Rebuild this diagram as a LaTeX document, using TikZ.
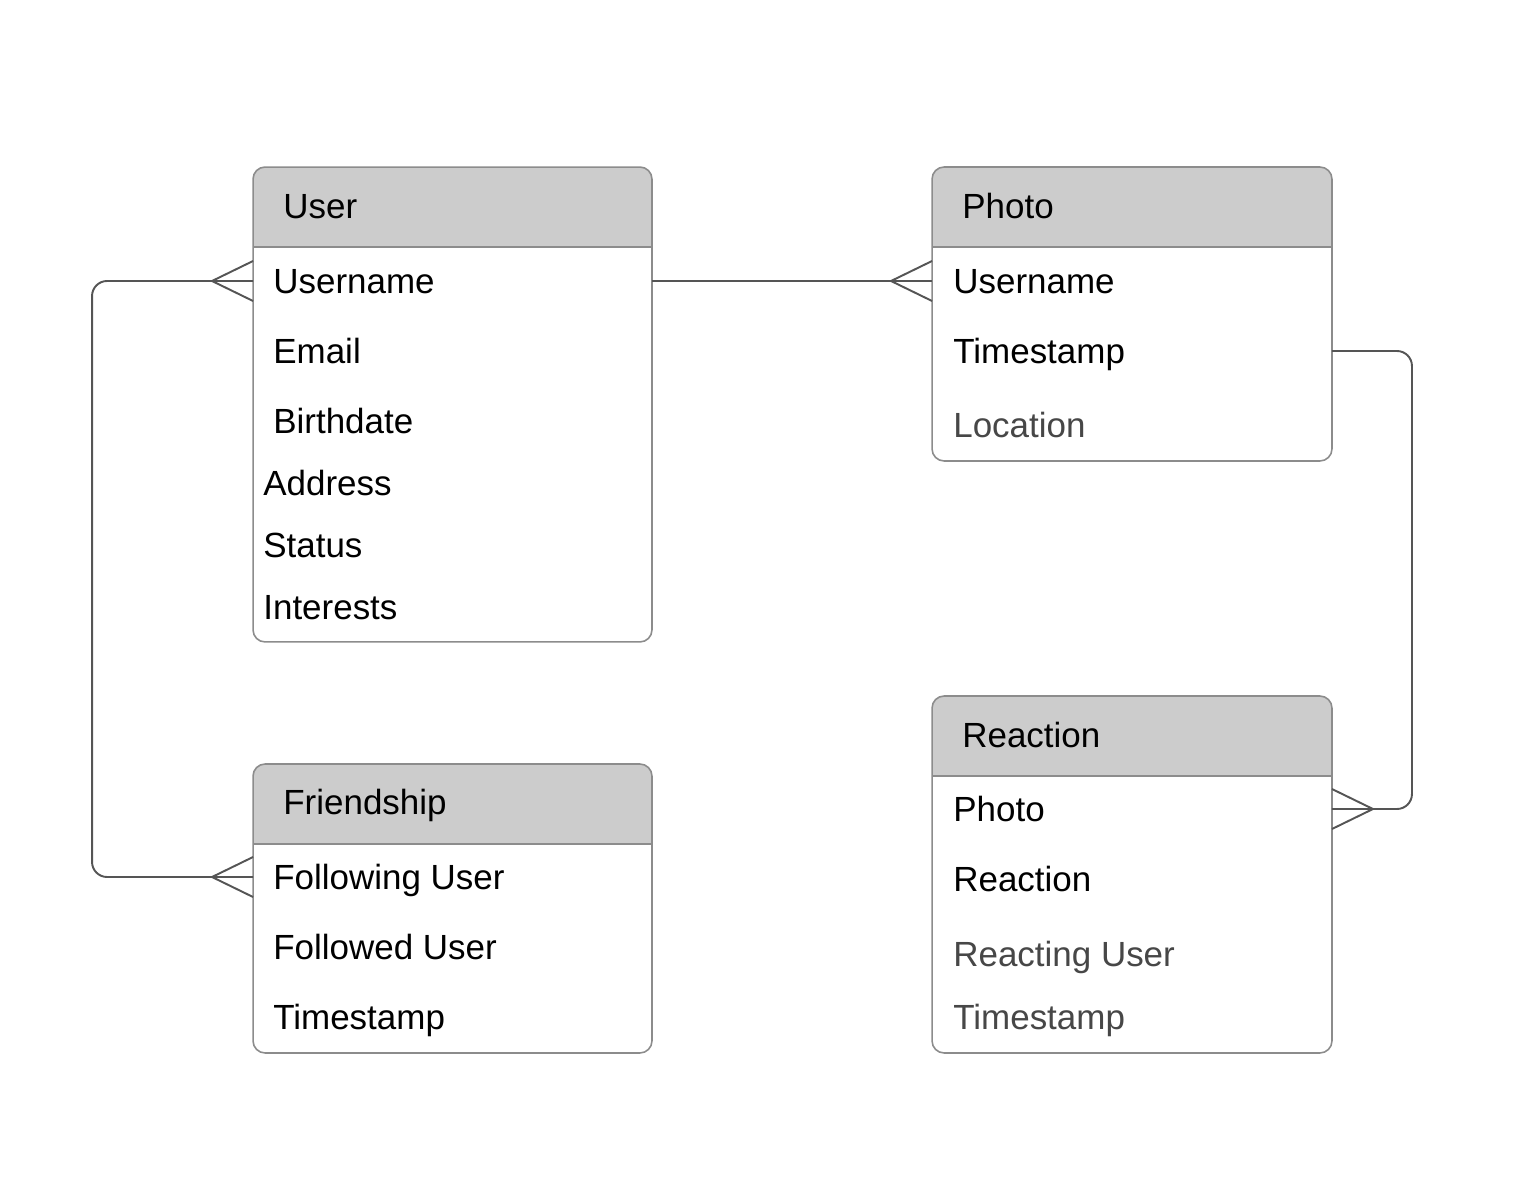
\documentclass[tikz,border=0pt]{standalone}
\usepackage{fontspec}
\setmainfont{Liberation Sans}
\definecolor{headfill}{HTML}{CCCCCC}
\definecolor{boxline}{HTML}{8C8C8C}
\definecolor{linkgray}{HTML}{555555}
\begin{document}
\begin{tikzpicture}[x=0.02cm, y=-0.02cm,
            table/.style={rectangle, fill=white, rounded corners=0.24cm, inner sep=0pt, outer sep=0pt},
            title/.style={anchor=west, inner sep=0pt, text height=0.5cm, text depth=0pt, font=\fontsize{19.9}{24}\selectfont},
            field/.style={title},
            faint/.style={field, text=black!72},
            link/.style={draw=linkgray, line width=1.1pt, rounded corners=0.3cm},
            crow/.style={draw=linkgray, line width=1.1pt}
            ]
            \useasboundingbox (0,0) rectangle (1518,1192);

            % Tables
            \node[table, minimum width=7.98cm, minimum height=9.5cm] (user) at (452.5,404.5) {};
            \node[table, minimum width=8cm, minimum height=5.88cm] (photo) at (1132,314) {};
            \node[table, minimum width=7.98cm, minimum height=5.78cm] (friend) at (452.5,908.5) {};
            \node[table, minimum width=8cm, minimum height=7.14cm] (react) at (1132,874.5) {};

            \foreach \t in {user, photo, friend, react} {
                \begin{scope}
                    \clip[rounded corners=0.24cm] (\t.south west) rectangle (\t.north east);
                    \fill[headfill] (\t.north west) rectangle ([yshift=-1.6cm]\t.north east);
                \end{scope}
                \draw[boxline, line width=0.9pt] ([yshift=-1.6cm]\t.north west) -- ([yshift=-1.6cm]\t.north east);
                \draw[boxline, line width=0.9pt, rounded corners=0.24cm] (\t.south west) rectangle (\t.north east);
            }

            % Headers
            \node[title] (userhead) at (283,206) {User};
            \node[title] (photohead) at (962,206) {Photo};
            \node[title] (friendhead) at (283,802) {Friendship};
            \node[title] (reacthead) at (962,735) {Reaction};

            % User fields
            \node[field] (uname) at (273,281) {Username};
            \node[field] (umail) at (273,351) {Email};
            \node[field] (ubirth) at (273,421) {Birthdate};
            \node[field] (uaddr) at (263,483) {Address};
            \node[field] (ustatus) at (263,545) {Status};
            \node[field] (uinter) at (263,607) {Interests};

            % Photo fields
            \node[field] (pname) at (953,281) {Username};
            \node[field] (ptime) at (953,351) {Timestamp};
            \node[faint] (ploc) at (953,425) {Location};

            % Friendship fields
            \node[field] (ffollowing) at (273,877) {Following User};
            \node[field] (ffollowed) at (273,947) {Followed User};
            \node[field] (ftime) at (273,1017) {Timestamp};

            % Reaction fields
            \node[field] (rphoto) at (953,809) {Photo};
            \node[field] (rreact) at (953,879) {Reaction};
            \node[faint] (ruser) at (953,954) {Reacting User};
            \node[faint] (rtime) at (953,1017) {Timestamp};

            % Connector ends
            \coordinate (ua) at (user.west |- uname.west);
            \coordinate (ub) at (user.east |- uname.west);
            \coordinate (pa) at (photo.west |- pname.west);
            \coordinate (pb) at (photo.east |- ptime.west);
            \coordinate (fa) at (friend.west |- ffollowing.west);
            \coordinate (ra) at (react.east |- rphoto.west);

            % Relations
            \draw[link] (ua) -- ++(-161,0) |- (fa);
            \draw[link] (ub) -- (pa);
            \draw[link] (pb) -- ++(80,0) |- (ra);

            % Crow's feet
            \foreach \c/\d in {ua/1, fa/1, pa/1, ra/-1}
                \draw[crow] ([yshift=0.4cm]\c) -- ++(-41*\d,20) -- ++(41*\d,20);

        \end{tikzpicture}
\end{document}
